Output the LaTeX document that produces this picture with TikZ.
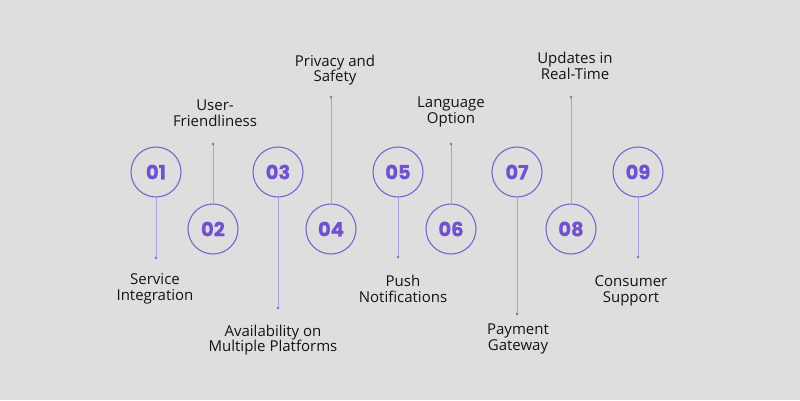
\documentclass[tikz,border=0pt]{standalone}
\usepackage{fontspec}
\setmainfont{Open Sans}
\newfontfamily\numfont{Poppins}[BoldFeatures={FakeBold=0.6}]
\definecolor{bgc}{HTML}{DEDEDE}
\definecolor{numc}{HTML}{7150D2}
\definecolor{ringc}{HTML}{7C63CF}
\definecolor{linec}{HTML}{ACA1DC}
\definecolor{dotc}{HTML}{7A6ACB}
\definecolor{txtc}{HTML}{141414}
\tikzset{
  numcircle/.style={circle, draw=ringc, line width=1.1pt, minimum size=50pt, inner sep=0pt,
    text=numc, font={\numfont\bfseries\fontsize{19.5}{21}\selectfont}},
  lbl/.style={align=center, text=txtc, inner sep=0pt, font={\fontsize{15}{15.5}\selectfont}},
  stem/.style={draw=linec, line width=0.8pt},
  dotmark/.style={fill=dotc}
}
\begin{document}
\begin{tikzpicture}[x=1pt,y=-1pt]
\useasboundingbox[fill=bgc] (0,0) rectangle (800,400);
% circles
\node[numcircle] (c1) at (156,172) {01};
\node[numcircle] (c2) at (213,229) {02};
\node[numcircle] (c3) at (278,172) {03};
\node[numcircle] (c4) at (331,229) {04};
\node[numcircle] (c5) at (398,172) {05};
\node[numcircle] (c6) at (451,229) {06};
\node[numcircle] (c7) at (517,172) {07};
\node[numcircle] (c8) at (571,229) {08};
\node[numcircle] (c9) at (638,172) {09};
% dot coordinates
\coordinate (d1) at (156,258);
\coordinate (d2) at (213,144);
\coordinate (d3) at (278,308);
\coordinate (d4) at (331,97);
\coordinate (d5) at (398,257);
\coordinate (d6) at (451,144);
\coordinate (d7) at (517,314);
\coordinate (d8) at (571,97);
\coordinate (d9) at (638,257);
% stems
\draw[stem] (c1.south) -- (d1);
\draw[stem] (c2.north) -- (d2);
\draw[stem] (c3.south) -- (d3);
\draw[stem] (c4.north) -- (d4);
\draw[stem] (c5.south) -- (d5);
\draw[stem] (c6.north) -- (d6);
\draw[stem] (c7.south) -- (d7);
\draw[stem] (c8.north) -- (d8);
\draw[stem] (c9.south) -- (d9);
\foreach \d in {d1,d2,d3,d4,d5,d6,d7,d8,d9}
  \fill[dotmark] (\d) circle (1.4pt);
% labels
\node[lbl] (l1) at (155,289) {Service\\Integration};
\node[lbl] (l2) at (215,113) {User-\\Friendliness};
\node[lbl] (l3) at (273,340) {Availability on\\Multiple Platforms};
\node[lbl] (l4) at (335,70) {Privacy and\\Safety};
\node[lbl] (l5) at (403,289) {Push\\Notifications};
\node[lbl] (l6) at (451,112) {Language\\Option};
\node[lbl] (l7) at (518,339) {Payment\\Gateway};
\node[lbl] (l8) at (575,66) {Updates in\\Real-Time};
\node[lbl] (l9) at (631,291) {Consumer\\Support};
\end{tikzpicture}
\end{document}
